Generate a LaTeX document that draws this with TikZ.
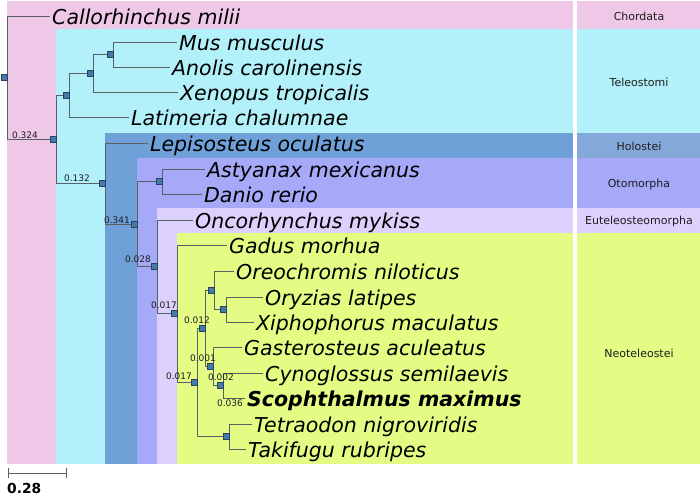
\documentclass[tikz,border=0pt]{standalone}
\usepackage{fontspec}
\setmainfont{DejaVu Sans}
\pgfdeclarelayer{bands}
\pgfdeclarelayer{lines}
\pgfsetlayers{bands,lines,main}
\definecolor{chordc}{RGB}{239,200,232}
\definecolor{telec}{RGB}{178,240,250}
\definecolor{holoc}{RGB}{112,160,216}
\definecolor{holocr}{RGB}{132,168,218}
\definecolor{otoc}{RGB}{166,168,248}
\definecolor{eutc}{RGB}{220,208,252}
\definecolor{neoc}{RGB}{228,252,132}
\definecolor{linec}{RGB}{88,98,100}
\definecolor{sqfill}{RGB}{72,122,168}
\definecolor{sqdraw}{RGB}{40,68,100}
\definecolor{labc}{RGB}{30,30,30}
\begin{document}
\begin{tikzpicture}[x=1pt,y=-1pt,
  br/.style={draw=linec,line width=0.8pt},
  sq/.style={rectangle,draw=sqdraw,fill=sqfill,minimum size=6pt,inner sep=0pt,line width=0.5pt},
  leaf/.style={anchor=west,inner xsep=2pt,inner ysep=0pt,text height=17pt,text depth=0pt,
    font=\fontsize{20.5}{20.5}\selectfont\itshape},
  bl/.style={font=\fontsize{9}{9}\selectfont,inner sep=0pt,text=labc},
  clade/.style={font=\fontsize{11}{11}\selectfont,inner sep=0pt,text=labc}]
\useasboundingbox (0,0) rectangle (700,496);
\begin{pgfonlayer}{bands}
\fill[white] (0,0) rectangle (700,496);
\fill[chordc] (7,1) rectangle (573,464);
\fill[chordc] (577,1) rectangle (700,29);
\fill[telec] (56,29) rectangle (573,464);
\fill[telec] (577,29) rectangle (700,133);
\fill[holoc] (105,133) rectangle (573,464);
\fill[holocr] (577,133) rectangle (700,158);
\fill[otoc] (137,158) rectangle (573,464);
\fill[otoc] (577,158) rectangle (700,208);
\fill[eutc] (157,208) rectangle (573,464);
\fill[eutc] (577,208) rectangle (700,233);
\fill[neoc] (177,233) rectangle (573,464);
\fill[neoc] (577,233) rectangle (700,464);
\end{pgfonlayer}
% internal nodes
\node[sq] (R) at (4,77) {};
\node[sq] (n324) at (53,139) {};
\node[sq] (t1) at (66,95) {};
\node[sq] (t2) at (90,73) {};
\node[sq] (t3) at (110,54) {};
\node[sq] (n132) at (102,183) {};
\node[sq] (n341) at (134,224) {};
\node[sq] (ot) at (159,181) {};
\node[sq] (n028) at (154,266) {};
\node[sq] (n017a) at (174,313) {};
\node[sq] (n017b) at (194,382) {};
\node[sq] (n012) at (202,328) {};
\node[sq] (na) at (211,290) {};
\node[sq] (nb) at (223,309) {};
\node[sq] (n001) at (210,366) {};
\node[sq] (n002) at (220,385) {};
\node[sq] (nc) at (226,436) {};
% leaves
\node[leaf] (cal) at (50,16) {Callorhinchus milii};
\node[leaf] (mus) at (177,42) {Mus musculus};
\node[leaf] (ano) at (170,67) {Anolis carolinensis};
\node[leaf] (xen) at (178,92) {Xenopus tropicalis};
\node[leaf] (lat) at (129,117) {Latimeria chalumnae};
\node[leaf] (lep) at (148,143) {Lepisosteus oculatus};
\node[leaf] (ast) at (205,169) {Astyanax mexicanus};
\node[leaf] (dan) at (202,194) {Danio rerio};
\node[leaf] (onc) at (193,220) {Oncorhynchus mykiss};
\node[leaf] (gad) at (227,245) {Gadus morhua};
\node[leaf] (ore) at (234,271) {Oreochromis niloticus};
\node[leaf] (ory) at (263,297) {Oryzias latipes};
\node[leaf] (xip) at (254,322) {Xiphophorus maculatus};
\node[leaf] (gas) at (242,347) {Gasterosteus aculeatus};
\node[leaf] (cyn) at (263,373) {Cynoglossus semilaevis};
\node[leaf,font=\fontsize{20.5}{20.5}\selectfont\bfseries\itshape] (sco) at (245,398) {Scophthalmus maximus};
\node[leaf] (tet) at (252,424) {Tetraodon nigroviridis};
\node[leaf] (tak) at (246,449) {Takifugu rubripes};
% branches
\begin{pgfonlayer}{lines}
\draw[br] (R.east) |- (cal.west);
\draw[br] (R.east) |- (n324.west);
\draw[br] (n324.east) |- (t1.west);
\draw[br] (n324.east) |- (n132.west);
\draw[br] (t1.east) |- (t2.west);
\draw[br] (t1.east) |- (lat.west);
\draw[br] (t2.east) |- (t3.west);
\draw[br] (t2.east) |- (xen.west);
\draw[br] (t3.east) |- (mus.west);
\draw[br] (t3.east) |- (ano.west);
\draw[br] (n132.east) |- (lep.west);
\draw[br] (n132.east) |- (n341.west);
\draw[br] (n341.east) |- (ot.west);
\draw[br] (n341.east) |- (n028.west);
\draw[br] (ot.east) |- (ast.west);
\draw[br] (ot.east) |- (dan.west);
\draw[br] (n028.east) |- (onc.west);
\draw[br] (n028.east) |- (n017a.west);
\draw[br] (n017a.east) |- (gad.west);
\draw[br] (n017a.east) |- (n017b.west);
\draw[br] (n017b.east) |- (n012.west);
\draw[br] (n017b.east) |- (nc.west);
\draw[br] (n012.east) |- (na.west);
\draw[br] (n012.east) |- (n001.west);
\draw[br] (na.east) |- (ore.west);
\draw[br] (na.east) |- (nb.west);
\draw[br] (nb.east) |- (ory.west);
\draw[br] (nb.east) |- (xip.west);
\draw[br] (n001.east) |- (gas.west);
\draw[br] (n001.east) |- (n002.west);
\draw[br] (n002.east) |- (cyn.west);
\draw[br] (n002.east) |- (sco.west);
\draw[br] (nc.east) |- (tet.west);
\draw[br] (nc.east) |- (tak.west);
\end{pgfonlayer}
% branch labels
\node[bl] (l324) at (25,135) {0.324};
\node[bl] (l132) at (77,178) {0.132};
\node[bl] (l341) at (117,220) {0.341};
\node[bl] (l028) at (138,259) {0.028};
\node[bl] (l017a) at (164,305) {0.017};
\node[bl] (l017b) at (179,376) {0.017};
\node[bl] (l012) at (197,320) {0.012};
\node[bl] (l001) at (203,358) {0.001};
\node[bl] (l002) at (221,377) {0.002};
\node[bl] (l036) at (230,403) {0.036};
% clade labels
\node[clade] (cChord) at (639,16) {Chordata};
\node[clade] (cTele) at (639,82) {Teleostomi};
\node[clade] (cHolo) at (639,146) {Holostei};
\node[clade] (cOto) at (639,184) {Otomorpha};
\node[clade] (cEut) at (639,221) {Euteleosteomorpha};
\node[clade] (cNeo) at (639,353) {Neoteleostei};
% scale bar
\coordinate (s1) at (8,473);
\coordinate (s2) at (66,473);
\draw[br] (s1) -- (s2);
\draw[br] ([yshift=-5pt]s1) -- ([yshift=5pt]s1);
\draw[br] ([yshift=-5pt]s2) -- ([yshift=5pt]s2);
\node[anchor=west,inner sep=0pt,font=\fontsize{13.8}{13.8}\selectfont\bfseries] (sl) at (7,488) {0.28};
\end{tikzpicture}
\end{document}
